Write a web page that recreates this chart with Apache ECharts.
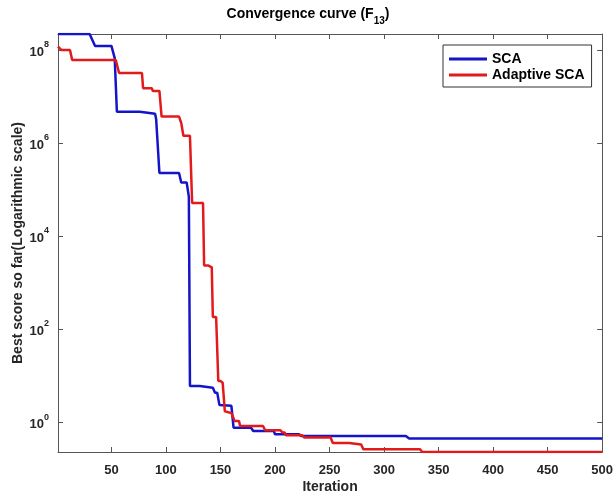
<!DOCTYPE html>
<html>
<head>
<meta charset="utf-8">
<script src="https://cdn.jsdelivr.net/npm/echarts@6/dist/echarts.min.js"></script>
<style>
  html, body { margin: 0; padding: 0; background: #fff; }
  #main { width: 616px; height: 499px; }
</style>
</head>
<body>
<div id="main"></div>
<script>
// [iteration, best score] (step points only)
const scaCurve = [[1,2.2e8],[30,2.2e8],[35,1.22e8],[50,1.22e8],[53,6.7e7],[55,4.7e6],[76,4.7e6],[77,4.26e6],
  [90,4.26e6],[91,3.3e6],[94,2.28e5],[112,2.28e5],[114,1.43e5],[119,1.43e5],[121,7e4],[122,6.1],[131,6.1],
  [132,5.6],[143,5.6],[145,4.4],[147,4.4],[149,2.4],[160,2.3],[162,0.78],[178,0.78],[180,0.66],[199,0.66],
  [200,0.56],[222,0.56],[224,0.515],[320,0.515],[323,0.454],[500,0.454]];

const adaptiveCurve = [[1,1.18e8],[4,1.0e8],[12,1.0e8],[14,6.1e7],[54,6.1e7],[57,3.2e7],[78,3.2e7],[79,1.51e7],
  [87,1.51e7],[88,1.32e7],[94,1.32e7],[96,3.72e6],[112,3.72e6],[114,2.7e6],[116,1.44e6],[122,1.44e6],
  [124,5.2e4],[134,5.2e4],[135,2350],[139,2350],[140,2150],[142,2150],[143,185],[146,185],[148,7.8],
  [150,7.8],[151,7.2],[152,7.2],[154,1.75],[160,1.6],[163,1.08],[167,1.08],[168,0.846],[189,0.846],
  [191,0.684],[205,0.684],[207,0.61],[209,0.61],[210,0.534],[225,0.534],[227,0.477],[251,0.477],
  [253,0.365],[268,0.365],[269,0.338],[279,0.338],[281,0.268],[333,0.268],[335,0.234],[500,0.234]];

const seriesNames = ['SCA', 'Adaptive SCA'];
const xMin = 1, xMax = 500;
const yMin = 0.234, yMax = 2.2e8;
// decade ticks shown on the y axis: 10^0, 10^2, ... 10^8
const yTickExponents = [0, 2, 4, 6, 8];

var myChart = echarts.init(document.getElementById('main'));

const font = '"Liberation Sans", Arial, Helvetica, sans-serif';
const axisColor = '#555';
const textColor = '#262626';

const xBase = {
  type: 'value', min: xMin, max: xMax, splitNumber: 10,
  axisLine: { show: true, onZero: false, lineStyle: { color: axisColor, width: 1 } },
  axisTick: { show: true, inside: true, length: 5, lineStyle: { color: axisColor } },
  splitLine: { show: false }
};

// exponent axes (linear in log10) only carry the ticks and labels,
// the data itself is drawn on the hidden log axis below
const expBase = {
  type: 'value', min: Math.log10(yMin), max: Math.log10(yMax), splitNumber: 5,
  axisLine: { show: true, onZero: false, lineStyle: { color: axisColor, width: 1 } },
  axisTick: { show: true, inside: true, length: 5, lineStyle: { color: axisColor } },
  splitLine: { show: false }
};

var option = {
  animation: false,
  backgroundColor: '#fff',
  title: {
    left: 'center', top: 2, padding: 0,
    text: '{t|Convergence curve (F}{s|13}{t|)}',
    textStyle: {
      rich: {
        t: { fontFamily: font, fontSize: 14, fontWeight: 'bold', color: '#000', lineHeight: 24 },
        s: { fontFamily: font, fontSize: 10, fontWeight: 'bold', color: '#000', lineHeight: 10, verticalAlign: 'bottom' }
      }
    }
  },
  legend: {
    orient: 'vertical', left: 443, top: 45,
    padding: [7, 7, 5, 6], itemGap: 2, itemWidth: 38, itemHeight: 3,
    icon: 'rect',
    borderColor: '#333', borderWidth: 1, backgroundColor: '#fff',
    textStyle: { fontFamily: font, fontSize: 14, fontWeight: 'bold', color: '#000' },
    data: seriesNames
  },
  grid: { left: 58, right: 13, top: 34, bottom: 46 },
  xAxis: [
    Object.assign({}, xBase, {
      position: 'bottom',
      name: 'Iteration', nameLocation: 'middle', nameGap: 28, nameMoveOverlap: false,
      nameTextStyle: { fontFamily: font, fontSize: 14, fontWeight: 'bold', color: textColor },
      axisLabel: {
        margin: 12, fontFamily: font, fontSize: 13, fontWeight: 'bold', color: textColor,
        showMinLabel: false,
        formatter: function (v) { return v === xMin ? '' : String(v); }
      }
    }),
    Object.assign({}, xBase, { position: 'top', axisLabel: { show: false } })
  ],
  yAxis: [
    { type: 'log', logBase: 10, min: yMin, max: yMax, show: false },
    Object.assign({}, expBase, {
      position: 'left',
      name: 'Best score so far(Logarithmic scale)', nameLocation: 'middle', nameGap: 33, nameMoveOverlap: false,
      nameTextStyle: { fontFamily: font, fontSize: 14, fontWeight: 'bold', color: textColor },
      axisLabel: {
        margin: 9, padding: [4, 0, 0, 0], showMinLabel: false, showMaxLabel: false,
        formatter: function (v) {
          return yTickExponents.indexOf(v) < 0 ? '' : '{b|10}{s|' + v + '}';
        },
        rich: {
          b: { fontFamily: font, fontSize: 13, fontWeight: 'bold', color: textColor, lineHeight: 24 },
          s: { fontFamily: font, fontSize: 9, fontWeight: 'bold', color: textColor, lineHeight: 10, verticalAlign: 'top' }
        }
      }
    }),
    Object.assign({}, expBase, { position: 'right', axisLabel: { show: false } })
  ],
  series: [
    {
      name: seriesNames[0], type: 'line', data: scaCurve,
      xAxisIndex: 0, yAxisIndex: 0,
      symbol: 'none', showSymbol: false,
      lineStyle: { color: '#1414c8', width: 2.5 }, itemStyle: { color: '#1414c8' }
    },
    {
      name: seriesNames[1], type: 'line', data: adaptiveCurve,
      xAxisIndex: 0, yAxisIndex: 0,
      symbol: 'none', showSymbol: false,
      lineStyle: { color: '#e31a1c', width: 2.5 }, itemStyle: { color: '#e31a1c' }
    }
  ]
};

myChart.setOption(option);
</script>
</body>
</html>
